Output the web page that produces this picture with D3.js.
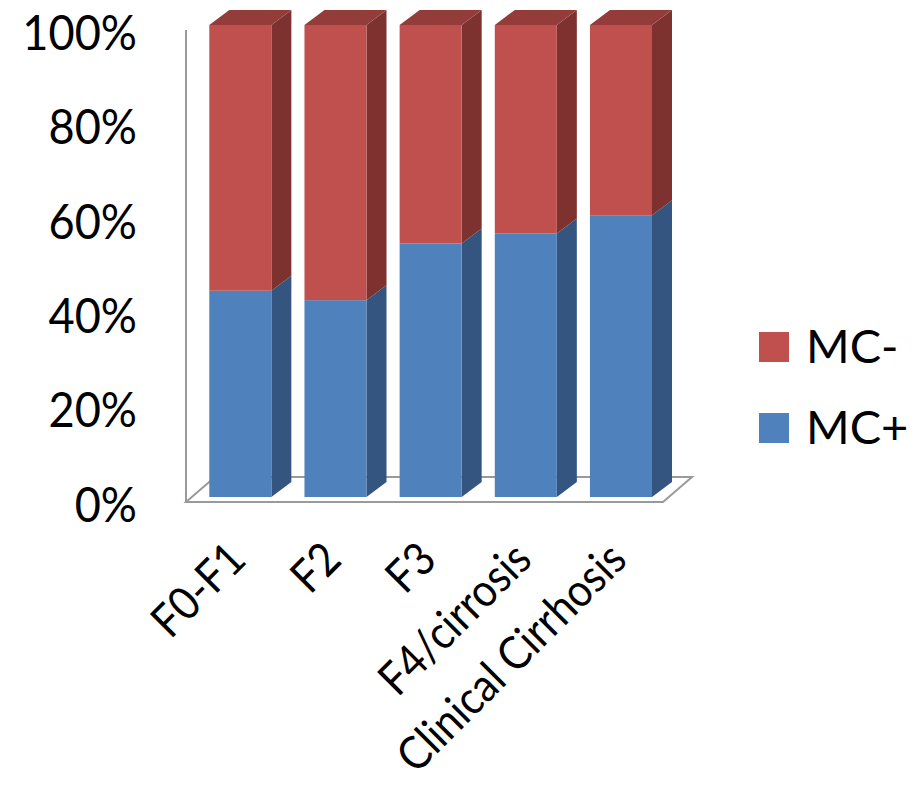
<!DOCTYPE html>
<html>
<head>
<meta charset="utf-8">
<script src="https://cdn.jsdelivr.net/npm/d3@7"></script>
<style>
  html, body { margin: 0; padding: 0; background: #fff; }
  svg { display: block; }
  text { font-family: Lato, "Open Sans", sans-serif; fill: #000; }
</style>
</head>
<body>
<svg id="chart" width="915" height="785"></svg>
<script>
// Fibrosis stage categories
const categories = ["F0-F1", "F2", "F3", "F4/cirrosis", "Clinical Cirrhosis"];
// Share of patients with mixed cryoglobulins (MC+) and without (MC-)
const mcPos = [0.437, 0.417, 0.537, 0.558, 0.597];
const mcNeg = mcPos.map(v => 1 - v);
const seriesNames = ["MC+", "MC-"];
const yTicks = [0, 0.2, 0.4, 0.6, 0.8, 1.0];

const colors = {
  "MC+": { front: "#4F81BD", side: "#34557F", top: "#3F6797" },
  "MC-": { front: "#C0504D", side: "#7D3230", top: "#943C39" }
};

const svg = d3.select("#chart");
const depthX = 20, depthY = 15;

const x = d3.scaleBand().domain(categories).range([209.3, 652]).paddingInner(0.348).paddingOuter(0);
const y = d3.scaleLinear().domain([0, 1]).range([497, 25]);
// the axis sits on the front edge of the floor, a little below the bar faces
const yAxisScale = d3.scaleLinear().domain([0, 1]).range([504, 32]);

// floor and wall
const floorFront = 502, floorBack = 477, floorLeft = 186, floorRight = 663, floorDx = 29;
const grid = svg.append("g").attr("fill", "none").attr("stroke", "#9a9a9a").attr("stroke-width", 2);
grid.append("path").attr("d",
  `M${floorLeft},${floorFront} L${floorRight},${floorFront} L${floorRight + floorDx},${floorBack} L${floorLeft + floorDx},${floorBack} Z`);
grid.append("line").attr("x1", floorLeft).attr("x2", floorLeft).attr("y1", yAxisScale(1) - 2).attr("y2", floorFront);

// stacked data
const stack = d3.stack().keys(seriesNames)(categories.map((c, i) => ({ cat: c, "MC+": mcPos[i], "MC-": mcNeg[i] })));

const bars = svg.append("g");
stack.forEach((layer, li) => {
  const key = layer.key;
  const isTop = li === stack.length - 1;
  layer.forEach(d => {
    const x0 = x(d.data.cat), w = x.bandwidth();
    const yb = y(d[0]), yt = y(d[1]);
    const g = bars.append("g");
    // side face
    g.append("path")
      .attr("d", `M${x0 + w},${yb} L${x0 + w},${yt} L${x0 + w + depthX},${yt - depthY} L${x0 + w + depthX},${yb - depthY} Z`)
      .attr("fill", colors[key].side);
    // top face
    if (isTop) {
      g.append("path")
        .attr("d", `M${x0},${yt} L${x0 + w},${yt} L${x0 + w + depthX},${yt - depthY} L${x0 + depthX},${yt - depthY} Z`)
        .attr("fill", colors[key].top);
    }
    // front face
    g.append("rect")
      .attr("x", x0).attr("y", yt).attr("width", w).attr("height", yb - yt)
      .attr("fill", colors[key].front);
  });
});

// value axis
const yAxis = svg.append("g")
  .attr("transform", "translate(137,0)")
  .call(d3.axisLeft(yAxisScale).tickValues(yTicks).tickFormat(d3.format(".0%")).tickSize(0).tickPadding(0));
yAxis.select(".domain").remove();
yAxis.selectAll("text")
  .attr("font-family", "Lato, sans-serif").attr("font-size", 48)
  .attr("dy", "0.36em").attr("fill", "#000")
  .attr("transform", "scale(0.94,1)");

// category labels, rotated
svg.append("g").selectAll("text").data(categories).join("text")
  .attr("transform", d => `translate(${x(d) + x.bandwidth() / 2 + 8},${562}) rotate(-45) scale(0.9,1)`)
  .attr("text-anchor", "end")
  .attr("font-size", 46)
  .text(d => d);

// legend
const legend = svg.append("g");
const legendItems = [{ name: "MC-", y: 332 }, { name: "MC+", y: 413 }];
legendItems.forEach(it => {
  legend.append("rect").attr("x", 759).attr("y", it.y).attr("width", 30).attr("height", 30)
    .attr("fill", colors[it.name].front);
  legend.append("text").attr("x", 806).attr("y", it.y + 30.5).attr("font-size", 47).text(it.name);
});
</script>
</body>
</html>
